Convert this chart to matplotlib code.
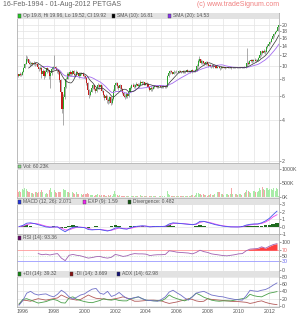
import numpy as np
import pandas as pd
import matplotlib
matplotlib.use("Agg")
import matplotlib.pyplot as plt
from matplotlib.patches import Rectangle
from matplotlib.ticker import FixedLocator, FixedFormatter, NullLocator

plt.rcParams["font.family"] = ["Liberation Sans", "DejaVu Sans"]

# ---------------- data (monthly bars, Aug-1995 .. Aug-2012) ----------------
start_year, start_month = 1995, 8

closes = [
    8.7, 8.5, 8.8, 8.6, 9.0,
    9.6, 10.4, 11.3, 11.2, 10.6, 10.3, 10.5, 10.4, 10.6, 10.3, 10.4, 9.9,
    9.5, 9.7, 8.8, 9.2, 8.5, 9.1, 9.6, 9.3, 8.4, 8.9, 9.5, 9.8,
    9.9, 9.6, 9.3, 9.0, 7.9, 6.4, 4.8, 5.9, 7.0, 8.1, 8.8, 8.5,
    9.0, 8.7, 9.2, 8.8, 8.6, 9.1, 8.9, 8.5, 8.8, 8.9, 8.7, 8.5,
    8.2, 7.5, 6.7, 6.1, 6.5, 6.9, 7.2, 6.8, 6.6, 6.9, 7.3, 7.0,
    7.2, 6.6, 6.1, 5.8, 6.0, 5.6, 5.5, 5.9, 5.4, 5.7, 6.6, 7.3,
    7.5, 7.1, 6.9, 7.2, 6.8, 6.3, 6.0, 5.9, 6.2, 6.0, 6.5, 6.9,
    7.2, 7.3, 7.0, 7.2, 7.4, 7.1, 7.3, 7.7, 7.5, 7.6, 7.3, 7.5,
    7.4, 7.0, 6.7, 6.9, 6.8, 7.0, 7.2, 7.1, 7.0, 7.1, 7.2, 7.0,
    7.1, 7.0, 7.1, 7.0, 8.4, 8.9, 9.2, 9.0, 8.8, 9.1, 9.0, 9.1,
    9.0, 9.2, 9.1, 9.0, 9.2, 9.0, 9.1, 9.3, 9.1, 9.2, 9.0, 9.3,
    9.2, 9.1, 9.3, 10.0, 10.9, 11.2, 10.6, 10.8, 10.5, 10.3, 10.7, 10.4,
    10.0, 10.2, 9.9, 10.1, 9.8, 10.0, 9.7, 9.9, 9.8, 9.6, 9.8, 9.7,
    9.8, 9.6, 9.7, 9.8, 9.7, 9.8, 9.6, 9.7, 9.8, 9.7, 9.8, 9.7,
    9.7, 9.8, 9.7, 9.8, 9.9, 9.8, 10.5, 10.4, 10.8, 11.0, 10.8, 11.0,
    11.1, 10.8, 11.0, 11.4, 12.0, 12.8, 12.5, 13.0, 12.6, 13.8, 14.0, 14.5,
    15.0, 15.8, 16.5, 17.3, 17.8, 18.2, 19.5, 19.92,
]
highs = [
    8.9, 8.8, 9.0, 8.9, 9.2,
    9.8, 10.6, 12.0, 11.8, 11.3, 10.8, 10.7, 10.7, 10.8, 10.7, 10.6, 10.5,
    9.9, 10.0, 9.8, 9.5, 9.3, 9.3, 9.8, 9.7, 9.4, 9.2, 9.7, 10.0,
    12.0, 10.0, 9.7, 9.4, 9.1, 8.0, 6.5, 6.2, 7.2, 8.3, 9.0, 9.0,
    9.3, 9.1, 9.4, 9.3, 8.9, 9.3, 9.2, 9.0, 9.0, 9.1, 9.0, 8.8,
    8.6, 8.3, 7.6, 6.8, 6.7, 7.1, 7.4, 7.3, 6.9, 7.1, 7.5, 7.4,
    7.4, 7.3, 6.7, 6.2, 6.2, 6.1, 5.8, 6.0, 6.0, 5.9, 6.8, 7.5,
    7.7, 7.6, 7.2, 7.4, 7.3, 6.9, 6.4, 6.2, 6.4, 6.3, 6.7, 7.1,
    7.4, 7.5, 7.4, 7.4, 7.6, 7.5, 7.5, 7.9, 7.8, 7.8, 7.7, 7.7,
    7.6, 7.5, 7.1, 7.1, 7.0, 7.2, 7.3, 7.3, 7.2, 7.3, 7.3, 7.3,
    7.3, 7.2, 7.3, 7.2, 8.6, 9.1, 9.4, 9.3, 9.1, 9.3, 9.2, 9.3,
    9.2, 9.4, 9.3, 9.2, 9.4, 9.3, 9.3, 9.5, 9.4, 9.4, 9.3, 9.5,
    9.4, 9.3, 9.5, 10.3, 11.3, 11.8, 11.3, 11.0, 10.9, 10.7, 10.9, 10.8,
    10.5, 10.4, 10.2, 10.3, 10.2, 10.2, 10.1, 10.1, 10.0, 9.9, 10.0, 9.9,
    9.9, 9.9, 9.9, 9.9, 9.9, 9.9, 9.8, 9.8, 9.9, 9.9, 9.9, 9.9,
    9.8, 9.9, 9.9, 9.9, 10.0, 10.0, 13.5, 10.8, 11.0, 11.3, 11.2, 11.2,
    11.4, 11.3, 11.2, 11.6, 12.3, 13.0, 13.1, 13.3, 13.2, 14.0, 14.4, 14.8,
    15.3, 16.0, 16.8, 17.5, 18.2, 18.5, 19.7, 19.96,
]
lows = [
    8.5, 8.3, 8.4, 8.4, 8.6,
    9.0, 9.6, 10.3, 10.8, 10.3, 10.0, 10.1, 10.1, 10.2, 10.0, 10.1, 9.6,
    9.2, 9.3, 8.2, 8.6, 8.0, 8.3, 8.9, 9.0, 8.0, 6.9, 8.6, 9.4,
    9.5, 9.3, 8.9, 8.7, 7.6, 6.3, 4.5, 3.7, 5.7, 6.9, 8.0, 8.1,
    8.4, 8.4, 8.6, 8.5, 8.3, 8.5, 8.7, 8.2, 8.4, 8.6, 8.4, 8.2,
    8.0, 7.3, 6.5, 5.8, 6.0, 6.4, 6.8, 6.7, 6.3, 6.5, 6.8, 6.8,
    6.8, 6.4, 5.9, 5.6, 5.7, 5.4, 5.3, 5.4, 5.2, 5.3, 5.6, 6.6,
    7.2, 6.9, 6.7, 6.8, 6.7, 6.2, 5.9, 5.7, 5.8, 5.8, 5.9, 6.4,
    6.8, 7.1, 6.9, 6.9, 7.1, 7.0, 7.0, 7.2, 7.3, 7.4, 7.2, 7.2,
    7.2, 6.9, 6.6, 6.6, 6.6, 6.8, 6.9, 7.0, 6.9, 6.9, 7.0, 6.9,
    6.9, 6.9, 6.9, 6.9, 7.0, 8.3, 8.8, 8.9, 8.7, 8.7, 8.9, 8.9,
    8.9, 8.9, 9.0, 8.9, 8.9, 8.9, 8.9, 9.0, 9.0, 9.0, 8.9, 8.9,
    9.1, 9.0, 9.0, 9.2, 9.9, 10.7, 10.4, 10.4, 10.3, 10.1, 10.2, 10.2,
    9.9, 9.9, 9.7, 9.8, 9.7, 9.7, 9.6, 9.6, 9.7, 9.4, 9.5, 9.6,
    9.6, 9.5, 9.6, 9.6, 9.6, 9.6, 9.5, 9.6, 9.6, 9.6, 9.6, 9.6,
    9.6, 9.6, 9.6, 9.6, 9.7, 9.7, 9.8, 10.2, 10.3, 10.7, 10.6, 10.7,
    10.9, 10.7, 10.8, 10.9, 11.4, 11.9, 12.3, 12.4, 12.3, 12.6, 13.6, 14.0,
    14.5, 15.0, 15.7, 16.4, 17.2, 17.7, 18.1, 19.52,
]
first_open = 8.8
volumes_k = [
    250, 180, 220, 200, 300,
    260, 330, 300, 220, 180, 200, 150, 160, 120, 200, 180, 150,
    170, 200, 250, 180, 150, 130, 160, 120, 250, 330, 200, 180,
    250, 180, 160, 200, 170, 190, 220, 300, 260, 250, 200, 180,
    150, 200, 180, 160, 130, 170, 120, 100, 150, 130, 90, 110,
    120, 100, 150, 130, 80, 90, 70, 60, 80, 90, 110, 70,
    60, 70, 90, 80, 60, 50, 70, 60, 80, 50, 120, 220,
    120, 80, 60, 70, 50, 60, 40, 50, 60, 40, 50, 60,
    50, 40, 30, 40, 50, 40, 60, 90, 50, 40, 30, 40,
    40, 60, 50, 30, 40, 30, 30, 40, 30, 20, 30, 30,
    30, 20, 30, 40, 220, 120, 90, 60, 50, 60, 40, 50,
    40, 50, 30, 40, 60, 40, 30, 60, 50, 40, 60, 90,
    80, 60, 90, 150, 160, 130, 100, 90, 110, 80, 70, 60,
    90, 80, 100, 70, 90, 110, 150, 170, 200, 180, 120, 100,
    90, 80, 120, 100, 90, 120, 330, 100, 80, 120, 110, 90,
    100, 120, 90, 80, 150, 200, 260, 230, 180, 150, 170, 210,
    230, 200, 180, 220, 330, 260, 380, 280, 250, 340, 320, 260,
    280, 300, 250, 330, 220, 310, 280, 60,
]

# ---------------- indicators read quarterly (1995.75 .. 2012.5) -------------
q_start, q_count = 1995.75, 68
macd = [0.0,
    0.15, 0.45, 0.5, 0.4,   0.25, 0.1, -0.05, -0.1,   -0.05, -0.05, -0.4, -0.7,
    -0.35, -0.1, -0.05, -0.1,   -0.15, -0.4, -0.45, -0.4,   -0.4, -0.5, -0.6, -0.45,
    -0.2, -0.15, -0.3, -0.35,   -0.15, 0.0, 0.05, 0.1,   0.05, -0.05, 0.0, 0.02,
    0.0, 0.05, 0.35, 0.5,   0.45, 0.4, 0.35, 0.3,   0.25, 0.35, 0.7, 0.7,
    0.55, 0.4, 0.25, 0.15,   0.05, 0.0, -0.05, -0.05,   -0.05, 0.0, 0.2, 0.3,
    0.35, 0.35, 0.5, 0.75,   1.1, 1.6, 2.071]
exp9 = [0.0,
    0.05, 0.25, 0.4, 0.42,   0.35, 0.2, 0.05, -0.05,   -0.07, -0.05, -0.2, -0.45,
    -0.45, -0.25, -0.1, -0.08,   -0.12, -0.25, -0.4, -0.42,   -0.4, -0.45, -0.52, -0.5,
    -0.35, -0.2, -0.25, -0.3,   -0.25, -0.1, 0.0, 0.06,   0.06, 0.0, -0.02, 0.0,
    0.0, 0.02, 0.2, 0.4,   0.45, 0.42, 0.38, 0.33,   0.28, 0.3, 0.55, 0.68,
    0.6, 0.48, 0.33, 0.2,   0.1, 0.03, -0.02, -0.04,   -0.05, -0.02, 0.1, 0.22,
    0.3, 0.33, 0.42, 0.6,   0.9, 1.3, 1.59]
divergence = [0.0,
    0.1, 0.2, 0.1, -0.02,   -0.1, -0.1, -0.1, -0.05,   0.02, 0.0, -0.2, -0.25,
    0.1, 0.15, 0.05, -0.02,   -0.03, -0.15, -0.05, 0.02,   0.0, -0.05, -0.08, 0.05,
    0.15, 0.05, -0.05, -0.05,   0.1, 0.1, 0.05, 0.04,   -0.01, -0.05, 0.02, 0.02,
    0.0, 0.03, 0.15, 0.1,   0.0, -0.02, -0.03, -0.03,   -0.03, 0.05, 0.15, 0.02,
    -0.05, -0.08, -0.08, -0.05,   -0.05, -0.03, -0.03, -0.01,   0.0, 0.02, 0.1, 0.08,
    0.05, 0.02, 0.08, 0.15,   0.2, 0.3, 0.482]
rsi = [np.nan,
    np.nan, np.nan, np.nan, np.nan,   58, 54, 56, 53,   56, 58, 42, 33,
    52, 55, 52, 50,   46, 42, 44, 47,   48, 44, 42, 45,
    55, 52, 48, 50,   55, 58, 57, 57,   56, 51, 53, 54,
    54, 55, 68, 66,   63, 62, 61, 60,   57, 62, 70, 65,
    62, 57, 55, 53,   51, 50, 52, 54,   57, 58, 68, 74,
    75, 76, 82, 77,   84, 90, 93.36]
adx = [2,
    15, 35, 40, 33,   30, 32, 33, 28,   25, 32, 43, 36,
    25, 19, 24, 30,   33, 40, 46, 48,   35, 32, 40, 26,
    30, 37, 28, 21,   20, 23, 25, 20,   16, 15, 14, 13,
    18, 25, 38, 43,   36, 30, 22, 16,   25, 35, 38, 40,
    35, 30, 28, 26,   25, 22, 20, 18,   17, 16, 28, 43,
    41, 40, 43, 45,   50, 57, 62.98]
plus_di = [5,
    18, 20, 16, 12,   8, 10, 12, 16,   18, 15, 9, 8,
    22, 25, 18, 15,   12, 10, 9, 12,   15, 20, 17, 16,
    18, 15, 14, 14,   20, 22, 25, 20,   16, 15, 14, 14,
    14, 20, 30, 24,   20, 17, 14, 18,   25, 35, 30, 24,
    20, 16, 14, 13,   14, 14, 14, 16,   18, 20, 22, 32,
    28, 26, 25, 30,   35, 37, 39.32]
minus_di = [5,
    16, 15, 13, 17,   20, 18, 16, 18,   20, 22, 30, 25,
    20, 18, 16, 18,   24, 30, 25, 21,   20, 19, 18, 18,
    20, 22, 25, 22,   18, 13, 13, 14,   15, 16, 16, 15,
    14, 10, 7, 9,   11, 14, 16, 20,   18, 14, 12, 13,
    20, 18, 17, 16,   15, 14, 13, 12,   12, 11, 10, 7,
    9, 12, 14, 10,   7, 5, 3.669]

price_ticks = [2, 4, 6, 8, 10, 12, 14, 16, 18, 20]

# ---------------- derived --------------------------------------------------
n = len(closes)
t = np.array([start_year + (start_month - 1 + i) / 12 + 1 / 24 for i in range(n)])
c = np.array(closes); h = np.array(highs); l = np.array(lows)
o = np.concatenate([[first_open], c[:-1]])
up = c >= o
sma10 = pd.Series(c).rolling(10).mean().values
sma20 = pd.Series(c).rolling(20).mean().values
tq = q_start + 0.25 * np.arange(q_count)

# ---------------- layout ---------------------------------------------------
W, H = 297, 320
fig = plt.figure(figsize=(W / 100, H / 100), dpi=100)
fig.patch.set_facecolor("white")
LEFT, RIGHT = 17, 279
XLIM = (1995.62, 2012.63)
GRID = "#e3e3e3"
TXT = "#555555"
FS = 3.8
LFS = 3.6


def panel(top, bottom):
    ax = fig.add_axes([LEFT / W, 1 - bottom / H, (RIGHT - LEFT) / W, (bottom - top) / H])
    ax.set_xlim(*XLIM)
    for s in ax.spines.values():
        s.set_color("#b0b0b0"); s.set_linewidth(0.6)
    ax.yaxis.tick_right()
    ax.tick_params(axis="y", length=1.3, width=0.4, labelsize=FS, colors=TXT, pad=0.8)
    ax.xaxis.set_major_locator(FixedLocator(np.arange(1996, 2013)))
    ax.tick_params(axis="x", length=0, labelbottom=False)
    ax.grid(True, color=GRID, lw=0.5)
    ax.set_axisbelow(True)
    hb = 6.0 / (bottom - top)
    ax.add_patch(Rectangle((0, 1 - hb), 1, hb, transform=ax.transAxes,
                           facecolor="#e2e2e2", edgecolor="none", zorder=6, clip_on=False))
    return ax, 1 - hb / 2, bottom - top


def legend(ax, yc, ph, items):
    pw = RIGHT - LEFT
    for x, col, txt in items:
        xf = (x - LEFT) / pw
        ax.add_patch(Rectangle((xf, yc - 1.6 / ph), 3.2 / pw, 3.2 / ph, transform=ax.transAxes,
                               facecolor=col, edgecolor="#444444", lw=0.3, zorder=7,
                               clip_on=False))
        ax.text(xf + 4.6 / pw, yc, txt, transform=ax.transAxes, color=TXT,
                fontsize=LFS, va="center", ha="left", zorder=7)


# title
fig.text(3 / W, 1 - 5 / H, "16-Feb-1994 - 01-Aug-2012 PETGAS", fontsize=5.0,
         color="#666666", va="center", ha="left")
fig.text(RIGHT / W, 1 - 5 / H, "(c) www.tradeSignum.com", fontsize=5.0,
         color="#f08080", va="center", ha="right")

# ---- main price panel
ax, yc, ph = panel(13, 162.5)
ax.set_yscale("log")
ax.set_ylim(1.96, 24.5)
ax.yaxis.set_major_locator(FixedLocator(price_ticks))
ax.yaxis.set_major_formatter(FixedFormatter([str(v) for v in price_ticks]))
ax.yaxis.set_minor_locator(NullLocator())
ax.vlines(t, l, h, color="#8a8a8a", lw=0.5, zorder=2)
body_lo = np.minimum(o, c); body_hi = np.maximum(o, c)
ax.bar(t, body_hi - body_lo, bottom=body_lo, width=0.07,
       color=np.where(up, "#2aa62a", "#c41e1e"), edgecolor="none", zorder=3)
ax.plot(t, sma20, color="#a46cf0", lw=0.6, zorder=4)
ax.plot(t, sma10, color="#333333", lw=0.5, zorder=4)
legend(ax, yc, ph, [(18, "#22cc22", "Op 19.8, Hi 19.96, Lo 19.52, Cl 19.92"),
                    (112, "#000000", "SMA (10): 16.81"),
                    (168, "#8833ee", "SMA (20): 14.53")])

# ---- volume panel
ax, yc, ph = panel(163.5, 198)
ax.set_ylim(-25, 1190)
ax.yaxis.set_major_locator(FixedLocator([0, 500, 1000]))
ax.yaxis.set_major_formatter(FixedFormatter(["0K", "500K", "1000K"]))
ax.bar(t, volumes_k, width=0.06, color=np.where(up, "#a8eca8", "#f2a8a8"),
       edgecolor="none", zorder=3)
legend(ax, yc, ph, [(18, "#88dd88", "Vol: 60.23K")])

# ---- MACD panel
ax, yc, ph = panel(199, 234)
ax.set_ylim(-1.0, 3.7)
ax.yaxis.set_major_locator(FixedLocator([-1, 0, 1, 2, 3]))
ax.yaxis.set_major_formatter(FixedFormatter(["-1", "0", "1", "2", "3"]))
ax.bar(tq, divergence, width=0.22, color="#1f6b1f", edgecolor="none", zorder=2)
ax.plot(tq, exp9, color="#ee44ee", lw=0.6, zorder=3)
ax.plot(tq, macd, color="#4455ee", lw=0.6, zorder=4)
legend(ax, yc, ph, [(18, "#2233dd", "MACD (12, 26): 2.071"),
                    (83, "#ee22ee", "EXP (9): 1.59"),
                    (128, "#115511", "Divergence: 0.482")])

# ---- RSI panel
ax, yc, ph = panel(235, 270.5)
ax.set_ylim(-2, 124)
ax.yaxis.set_major_locator(FixedLocator([0, 30, 50, 70, 100]))
ax.yaxis.set_major_formatter(FixedFormatter(["0", "30", "50", "70", "100"]))
ax.grid(False, axis="y")
ax.axhline(70, color="#ff9a9a", lw=0.6, zorder=2)
ax.axhline(30, color="#9a9aff", lw=0.6, zorder=2)
ax.axhline(50, color="#bfe3bf", lw=0.5, ls=(0, (1, 1.5)), zorder=2)
rs = np.array(rsi, dtype=float)
ax.fill_between(tq, rs, 70, where=rs > 70, interpolate=True, color="#ff4040",
                lw=0, zorder=3)
ax.plot(tq, rs, color="#a060b0", lw=0.6, zorder=4)
for lab in ax.get_yticklabels():
    if lab.get_text() == "70":
        lab.set_color("#ee6666")
    elif lab.get_text() == "30":
        lab.set_color("#6666ee")
legend(ax, yc, ph, [(18, "#660066", "RSI (14): 93.36")])

# ---- ADX panel
ax, yc, ph = panel(271, 306.5)
ax.set_ylim(-1.4, 95.6)
ax.yaxis.set_major_locator(FixedLocator([0, 20, 40, 60, 80]))
ax.yaxis.set_major_formatter(FixedFormatter(["0", "20", "40", "60", "80"]))
ax.plot(tq, minus_di, color="#b35a5a", lw=0.6, zorder=3)
ax.plot(tq, plus_di, color="#4aa04a", lw=0.6, zorder=3)
ax.plot(tq, adx, color="#7070c8", lw=0.6, zorder=4)
legend(ax, yc, ph, [(18, "#118811", "+DI (14): 39.32"),
                    (70, "#881111", "-DI (14): 3.669"),
                    (117, "#111177", "ADX (14): 62.98")])
ax.xaxis.set_major_locator(FixedLocator(np.arange(1996, 2013)))
ax.set_xticklabels([str(y) if y % 2 == 0 else "" for y in range(1996, 2013)])
ax.tick_params(axis="x", labelbottom=True, labelsize=FS, colors=TXT, pad=2)

fig.savefig("out.png", dpi=100, facecolor="white")
